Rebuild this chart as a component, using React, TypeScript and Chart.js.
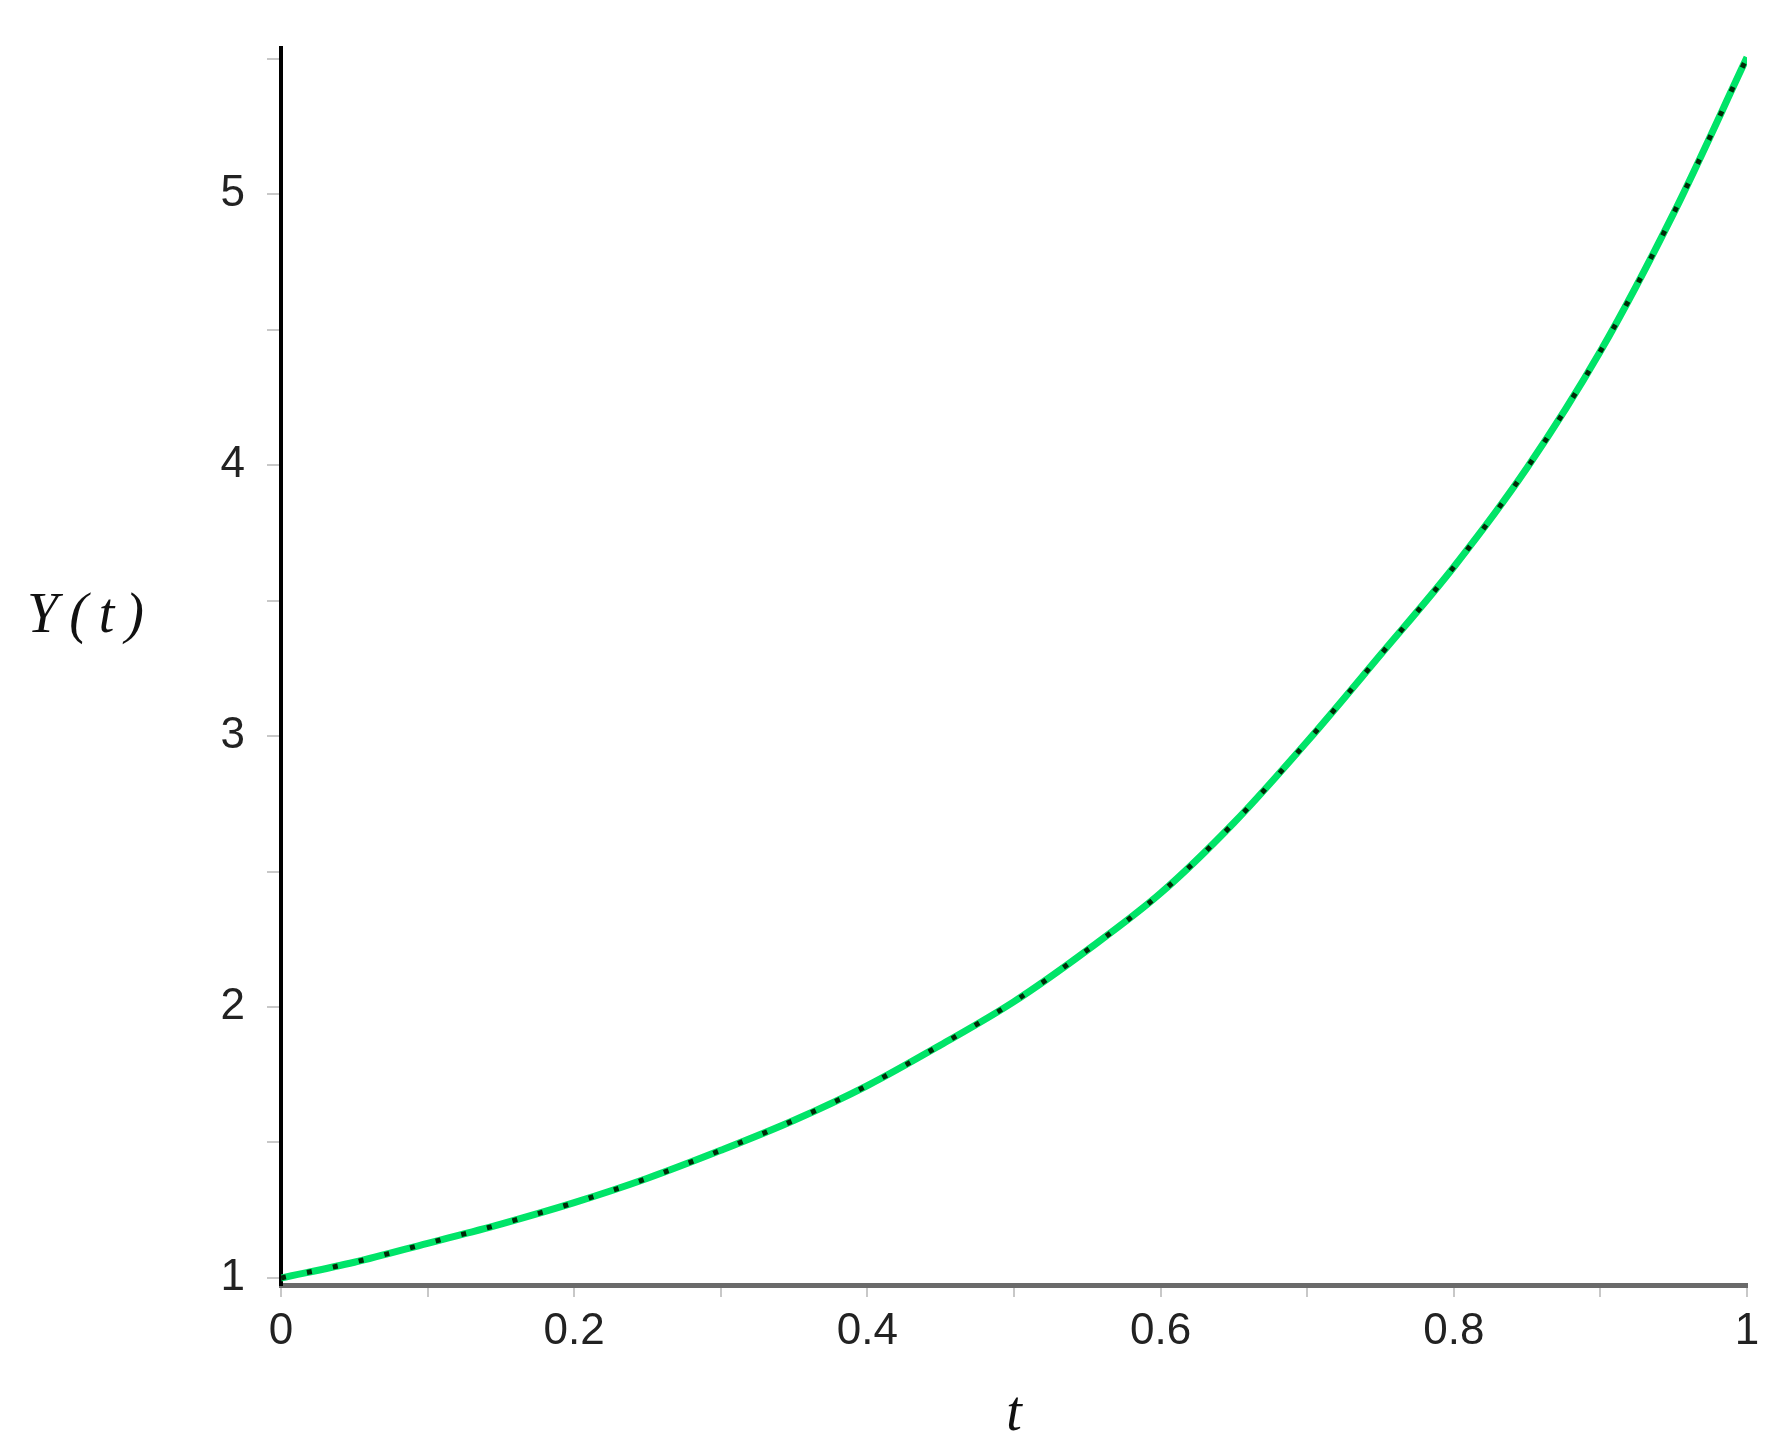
import React, { useEffect, useRef } from 'react';
import { Chart, registerables } from 'chart.js';

Chart.register(...registerables);

// t values and Y(t) values
const tValues = [0, 0.05, 0.1, 0.15, 0.2, 0.25, 0.3, 0.35, 0.4, 0.45, 0.5, 0.55, 0.6, 0.65, 0.7, 0.75, 0.8, 0.85, 0.9, 0.95, 1];
const yValues = [1.0, 1.058, 1.128, 1.199, 1.278, 1.368, 1.471, 1.582, 1.71, 1.86, 2.02, 2.21, 2.42, 2.68, 2.98, 3.30, 3.624, 3.99, 4.42, 4.93, 5.505];

const xTickLabels = ['0', '0.2', '0.4', '0.6', '0.8', '1'];
const yTickLabels = ['1', '2', '3', '4', '5'];
const xAxisTitle = 't';
const yAxisTitle = 'Y(t)';

export default function App() {
  const ref = useRef<HTMLCanvasElement>(null);

  useEffect(() => {
    if (!ref.current) return;
    const points = tValues.map((t, i) => ({ x: t, y: yValues[i] }));

    const titlePlugin = {
      id: 'axisTitles',
      afterDraw(chart: any) {
        const { ctx, chartArea } = chart;
        ctx.save();
        ctx.fillStyle = '#111';
        ctx.font = 'italic 56px "Liberation Serif"';
        ctx.textBaseline = 'alphabetic';
        ctx.textAlign = 'left';
        (ctx as any).letterSpacing = '11px';
        ctx.fillText(yAxisTitle, chartArea.left - 254, chartArea.top + 584);
        (ctx as any).letterSpacing = '0px';
        ctx.textAlign = 'center';
        ctx.fillText(xAxisTitle, (chartArea.left + chartArea.right) / 2, chartArea.bottom + 145);
        ctx.restore();
      },
    };

    const tickFont = { family: '"Liberation Sans", Arial, sans-serif', size: 44 };

    const chart = new Chart(ref.current, {
      type: 'line',
      data: {
        datasets: [
          {
            data: points,
            borderColor: '#002a08',
            borderWidth: 5,
            borderDash: [5, 21.5],
            borderCapStyle: 'butt',
            pointRadius: 0,
            cubicInterpolationMode: 'monotone',
            fill: false,
          },
          {
            data: points,
            borderColor: 'rgb(0, 228, 104)',
            borderWidth: 7,
            pointRadius: 0,
            cubicInterpolationMode: 'monotone',
            fill: false,
          },
        ],
      },
      options: {
        animation: false,
        responsive: false,
        devicePixelRatio: 1,
        layout: { padding: { top: 40, right: 37, left: 0, bottom: 0 } },
        plugins: {
          legend: { display: false },
          tooltip: { enabled: false },
        },
        scales: {
          x: {
            type: 'linear',
            min: 0,
            max: 1,
            grid: {
              drawOnChartArea: false,
              drawTicks: true,
              tickLength: 12,
              color: '#c8c8c8',
              lineWidth: 2,
            },
            border: { display: true, color: '#6a6a6a', width: 5 },
            ticks: {
              stepSize: 0.1,
              autoSkip: false,
              maxRotation: 0,
              includeBounds: false,
              padding: 8,
              color: '#222',
              font: tickFont,
              callback: (v: any) => {
                const k = Math.round(Number(v) * 10);
                if (k % 2 !== 0) return '';
                return xTickLabels[k / 2];
              },
            },
            afterFit: (s: any) => {
              s.height = 167;
            },
          },
          y: {
            type: 'linear',
            min: 0.974,
            max: 5.538,
            grid: {
              drawOnChartArea: false,
              drawTicks: true,
              tickLength: 14,
              color: '#c8c8c8',
              lineWidth: 2,
            },
            border: { display: true, color: '#000', width: 4 },
            ticks: {
              stepSize: 0.5,
              autoSkip: false,
              includeBounds: false,
              padding: 22,
              color: '#222',
              font: tickFont,
              callback: (v: any) => {
                const k = Math.round(Number(v) * 2);
                if (k % 2 !== 0) return '';
                return yTickLabels[k / 2 - 1] ?? '';
              },
            },
            afterFit: (s: any) => {
              s.width = 281;
            },
          },
        },
      },
      plugins: [titlePlugin],
    } as any);

    return () => chart.destroy();
  }, []);

  return (
    <div style={{ position: 'fixed', left: 0, top: 0, width: 1784, height: 1452, background: '#fff' }}>
      <canvas ref={ref} width={1784} height={1452} style={{ display: 'block', width: 1784, height: 1452 }} />
    </div>
  );
}
